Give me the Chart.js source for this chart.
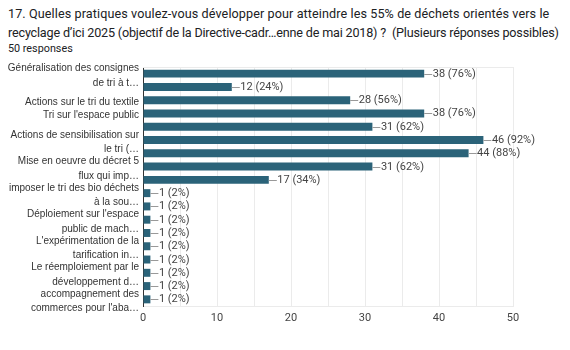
<!DOCTYPE html>
<html>
<head>
<meta charset="utf-8">
<script src="https://cdn.jsdelivr.net/npm/chart.js@4"></script>
<style>
  body { margin: 0; background: #fff; width: 570px; height: 350px; overflow: hidden; position: relative; font-family: Roboto, Arial, sans-serif; }
  .title { position: absolute; left: 8px; top: 4px; font-size: 12.6px; line-height: 19px; color: #202124; white-space: nowrap; }
  .l1 { letter-spacing: 0.1px; }
  .l2 { letter-spacing: -0.18px; }
  .sub { position: absolute; left: 8px; top: 42px; font-size: 10.8px; color: #202124; }
  #wrap { position: absolute; left: 0; top: 55px; width: 570px; height: 295px; }
</style>
</head>
<body>
<div class="title"><span class="l1">17. Quelles pratiques voulez-vous développer pour atteindre les 55% de déchets orientés vers le</span><br><span class="l2">recyclage d’ici 2025 (objectif de la Directive-cadr…enne de mai 2018) ?&nbsp; (Plusieurs réponses possibles)</span></div>
<div class="sub">50 responses</div>
<div id="wrap"><canvas id="chart"></canvas></div>
<script>
// categories (only the labels Google shows; hidden ones left empty)
const categories = [
  ['Généralisation des consignes', 'de tri à t…'],
  '',
  'Actions sur le tri du textile',
  'Tri sur l\'espace public',
  '',
  ['Actions de sensibilisation sur', 'le tri (…'],
  '',
  ['Mise en oeuvre du décret 5', 'flux qui imp…'],
  '',
  ['imposer le tri des bio déchets', 'à la sou…'],
  '',
  ['Déploiement sur l\'espace', 'public de mach…'],
  '',
  ['L\'expérimentation de la', 'tarification in…'],
  '',
  ['Le réemploiement par le', 'développement d…'],
  '',
  ['accompagnement des', 'commerces pour l\'aba…']
];
const counts = [38, 12, 28, 38, 31, 46, 44, 31, 17, 1, 1, 1, 1, 1, 1, 1, 1, 1];
const percents = [76, 24, 56, 76, 62, 92, 88, 62, 34, 2, 2, 2, 2, 2, 2, 2, 2, 2];
const xTicks = [0, 10, 20, 30, 40, 50];

// leader line + value label at the end of each bar
const valueLabels = {
  id: 'valueLabels',
  afterDatasetsDraw(chart) {
    const ctx = chart.ctx;
    const meta = chart.getDatasetMeta(0);
    ctx.save();
    ctx.font = '11px Roboto, Arial, sans-serif';
    ctx.textBaseline = 'middle';
    ctx.fillStyle = '#444';
    ctx.strokeStyle = '#999';
    ctx.lineWidth = 1;
    meta.data.forEach((bar, i) => {
      const x = bar.x, y = Math.round(bar.y) + 0.5;
      ctx.beginPath();
      ctx.moveTo(x, y);
      ctx.lineTo(x + 8, y);
      ctx.stroke();
      ctx.fillText(counts[i] + ' (' + percents[i] + '%)', x + 8.5, y);
    });
    ctx.restore();
  }
};

// light frame on top of the plot
const frame = {
  id: 'frame',
  beforeDatasetsDraw(chart) {
    const { ctx, chartArea: a } = chart;
    ctx.save();
    ctx.strokeStyle = '#ebebeb';
    ctx.lineWidth = 1;
    ctx.beginPath();
    ctx.moveTo(a.left, Math.round(a.top) + 0.5);
    ctx.lineTo(a.right, Math.round(a.top) + 0.5);
    ctx.stroke();
    ctx.restore();
  }
};

new Chart(document.getElementById('chart'), {
  type: 'bar',
  data: {
    labels: categories,
    datasets: [{
      data: counts,
      backgroundColor: '#2b6379',
      borderWidth: 0,
      barPercentage: 0.6,
      categoryPercentage: 1
    }]
  },
  options: {
    indexAxis: 'y',
    responsive: true,
    maintainAspectRatio: false,
    animation: false,
    layout: { padding: { top: 12, right: 57, bottom: 0, left: 0 } },
    plugins: { legend: { display: false }, tooltip: { enabled: false } },
    scales: {
      x: {
        min: 0,
        max: 50,
        afterFit(scale) { scale.height = 44; scale.paddingLeft = 0; scale.paddingRight = 0; },
        ticks: {
          stepSize: 5,
          padding: 6,
          color: '#444',
          font: { family: 'Roboto, Arial, sans-serif', size: 11 },
          callback: (v) => xTicks.includes(v) ? v : ''
        },
        grid: { color: '#ebebeb', drawTicks: false },
        border: { display: true, color: '#ebebeb' }
      },
      y: {
        afterFit(scale) { scale.width = 143; scale.paddingTop = 0; scale.paddingBottom = 0; },
        ticks: {
          autoSkip: false,
          padding: 4,
          labelOffset: 2,
          color: '#333',
          font: { family: '"Liberation Sans", Arial, sans-serif', size: 10, lineHeight: 1.45 }
        },
        grid: { display: false, drawTicks: false },
        border: { display: true, color: '#333', width: 1 }
      }
    }
  },
  plugins: [frame, valueLabels]
});
</script>
</body>
</html>
